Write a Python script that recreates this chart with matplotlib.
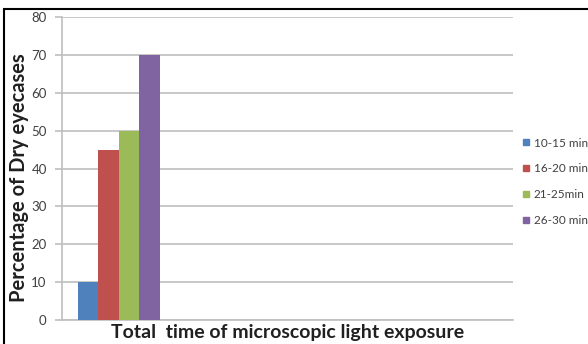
import matplotlib
matplotlib.use("Agg")
import matplotlib.pyplot as plt
from matplotlib.patches import Rectangle
from matplotlib.lines import Line2D

series = ["10-15 min", "16-20 min", "21-25min", "26-30 min"]
values = [10, 45, 50, 70]
colors = ["#4F81BD", "#C0504D", "#9BBB59", "#8064A2"]
yticks = [0, 10, 20, 30, 40, 50, 60, 70, 80]

plt.rcParams["font.family"] = ["Lato", "DejaVu Sans"]

fig = plt.figure(figsize=(5.88, 3.44), dpi=100)
W, H = 588, 344
ax = fig.add_axes([62 / W, 1 - 320 / H, (513 - 62) / W, (320 - 17) / H])

bw = 0.2
for i, (v, c) in enumerate(zip(values, colors)):
    ax.bar(-0.3 + i * bw, v, width=bw, color=c, zorder=3)

ax.set_xlim(-0.556, 3.844)
ax.set_ylim(0, 80)
ax.set_yticks(yticks)
ax.set_xticks([])
ax.grid(axis="y", color="#BFBFBF", linewidth=1.2, zorder=0)
for s in ["top", "right"]:
    ax.spines[s].set_visible(False)
for s in ["left", "bottom"]:
    ax.spines[s].set_color("#BFBFBF")
    ax.spines[s].set_linewidth(1.2)
ax.tick_params(axis="y", colors="#BFBFBF", labelcolor="#404040", labelsize=9.5,
               length=5, width=1.2, pad=6)

ax.set_ylabel("Percentage of Dry eyecases", fontsize=14.5, fontweight="bold",
              color="#202020")
ax.yaxis.set_label_coords(-0.073, 0.47)
ax.set_xlabel("Total  time of microscopic light exposure", fontsize=14,
              fontweight="bold", color="#202020", labelpad=3)

# outer chart border
fig.patches.append(Rectangle((4 / W, -0.1), 1.2, 1 - 9 / H + 0.1,
                             transform=fig.transFigure, fill=False,
                             edgecolor="black", linewidth=1.5))

handles = [Line2D([], [], marker="s", linestyle="none", markersize=5,
                  markerfacecolor=c, markeredgecolor=c) for c in colors]
fig.legend(handles, series, loc="upper left", bbox_to_anchor=(508 / W, 1 - 127 / H),
           frameon=False, fontsize=8.5, handletextpad=0.1, labelspacing=1.25,
           handlelength=1.2, labelcolor="#404040")

fig.savefig("out.png", dpi=100)
